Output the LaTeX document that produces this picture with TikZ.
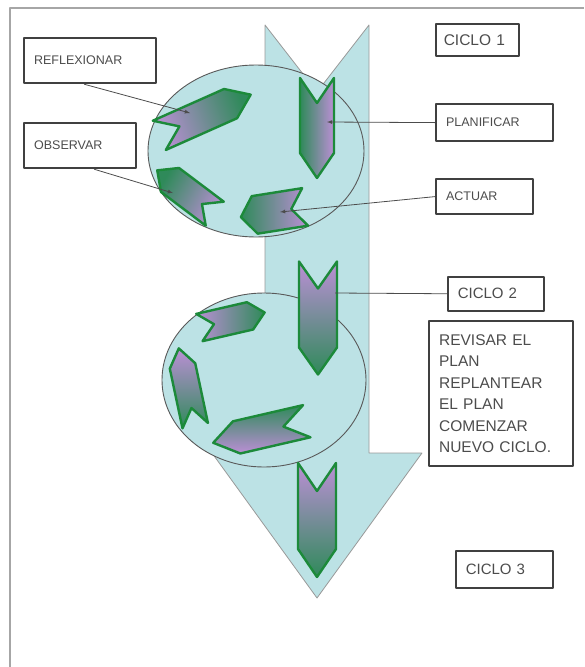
\documentclass[tikz,border=0pt]{standalone}
\usepackage{fontspec}
\setmainfont{Liberation Sans}
\definecolor{celeste}{HTML}{BCE2E5}
\definecolor{lila}{HTML}{BC8FD6}
\definecolor{verde}{HTML}{2F8A5A}
\definecolor{borde}{HTML}{1C8A3A}
\tikzset{
  caja/.style={draw=black!75, line width=2.2pt, fill=white, anchor=north west, inner xsep=10pt, inner ysep=0pt, align=left, text=black!70, font=\fontsize{12.5}{14}\selectfont},
  ciclo/.style={caja, line width=1.5pt, font=\fontsize{15}{17}\selectfont},
  flecha/.style={draw=borde, line width=2.4pt, top color=lila, bottom color=verde},
  linea/.style={draw=black!70, line width=0.8pt}
}
\begin{document}
\begin{tikzpicture}[x=1pt, y=-1pt, line join=round]
		\useasboundingbox (0,0) rectangle (584,667);
		\draw[gray!70, line width=1.2pt] (10,667) -- (10,8) -- (584,8);
		\coordinate (A) at (265,25);
		\coordinate (N) at (317,92);
		\coordinate (B) at (369,25);
		\coordinate (C) at (369,453);
		\coordinate (D) at (422,453);
		\coordinate (T) at (317,598);
		\coordinate (E) at (212,453);
		\coordinate (F) at (265,453);
		\filldraw[fill=celeste, draw=gray!80, line width=0.8pt] (A) -- (N) -- (B) -- (C) -- (D) -- (T) -- (E) -- (F) -- cycle;
		\filldraw[fill=celeste, draw=gray!70!black, line width=0.9pt] (256,151) ellipse [x radius=108pt, y radius=86pt];
		\filldraw[fill=celeste, draw=gray!70!black, line width=0.9pt] (264,380) ellipse [x radius=102pt, y radius=87pt];
		\foreach \cx/\cy/\ang/\len/\anc/\pun/\som in {
			317/128/-90/100/34/25/-90, 205/115/24/100/32/22/110, 186/192/143/72/30/16/-120, 273/212/189/65/38/14/-90,
			318/318/-90/113/38/27/0, 232/320/13/67/28/15/90, 187/387/102/79/26/18/0, 260/432/193/96/33/24/180,
			317/520/-90/114/38/28/0}{
			\begin{scope}[shift={(\cx,\cy)}, rotate=\ang]
				\draw[flecha, shading angle=\som] (-\len/2,\anc/2) -- (\len/2-\pun,\anc/2) -- (\len/2,0) -- (\len/2-\pun,-\anc/2) -- (-\len/2,-\anc/2) -- (-\len/2+\pun,0) -- cycle;
			\end{scope}
		}
		\coordinate (reflexPt) at (190,113);
		\coordinate (observPt) at (173,193);
		\coordinate (planPt) at (327,122);
		\coordinate (actuarPt) at (280,212);
		\coordinate (c2Pt) at (335,293);
		\node[caja, text width=112pt, minimum height=45pt] (reflexionar) at (23,37) {REFLEXIONAR};
		\node[caja, text width=92pt, minimum height=45pt] (observar) at (23,122) {OBSERVAR};
		\node[ciclo, inner xsep=8pt, text width=67pt, minimum height=32pt, font=\fontsize{15.5}{18}\selectfont] (ciclo1) at (435,23) {CICLO 1};
		\node[caja, text width=97pt, minimum height=37pt] (planificar) at (435,103) {PLANIFICAR};
		\node[caja, text width=77pt, minimum height=35pt] (actuar) at (435,178) {ACTUAR};
		\node[ciclo, text width=76pt, minimum height=34pt] (ciclo2) at (447,276) {CICLO 2};
		\node[caja, text width=124pt, minimum height=145pt, font=\fontsize{15.5}{21.5}\selectfont] (revisar) at (428,320) {REVISAR EL\\PLAN\\REPLANTEAR\\EL PLAN\\COMENZAR\\NUEVO CICLO.};
		\node[ciclo, text width=77pt, minimum height=37pt] (ciclo3) at (455,550) {CICLO 3};
		\draw[linea, -latex] ([xshift=-6pt]reflexionar.south) -- (reflexPt);
		\draw[linea, -latex] ([xshift=14pt]observar.south) -- (observPt);
		\draw[linea, -latex] (planificar.west) -- (planPt);
		\draw[linea, -latex] (actuar.west) -- (actuarPt);
		\draw[linea] (ciclo2.west) -- (c2Pt);
\end{tikzpicture}
\end{document}
